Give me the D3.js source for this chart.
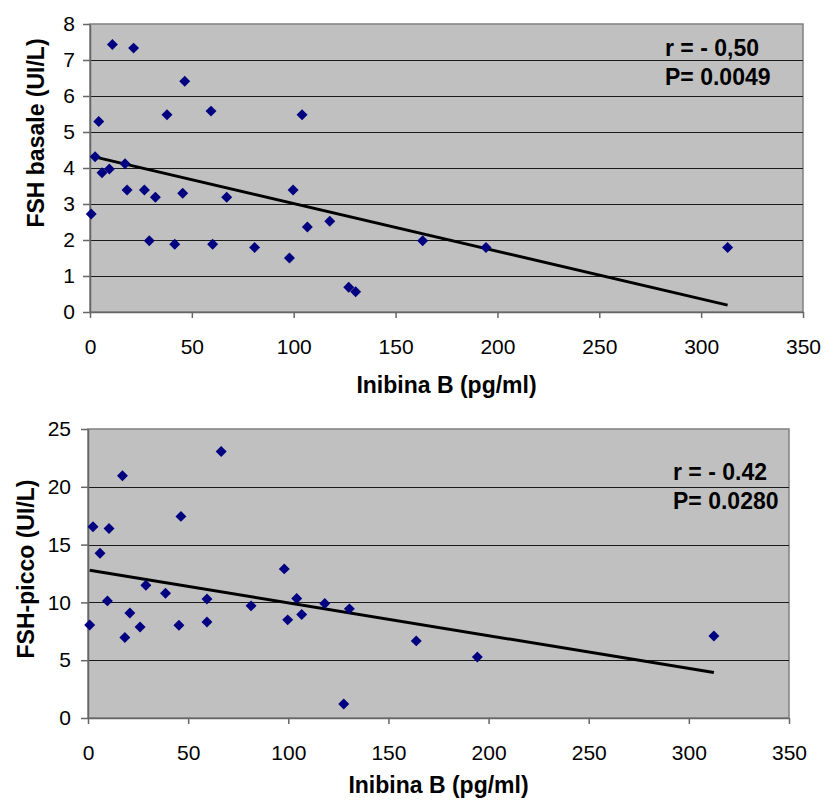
<!DOCTYPE html>
<html>
<head>
<meta charset="utf-8">
<script src="https://cdn.jsdelivr.net/npm/d3@7"></script>
<style>
  body { margin: 0; background: #fff; }
  svg text { font-family: "Liberation Sans", Arial, sans-serif; }
</style>
</head>
<body>
<svg id="chart" width="826" height="804"></svg>
<script>
// --- data ---
const xTicks = [0, 50, 100, 150, 200, 250, 300, 350];

const inibinaTop = [0.6, 2.5, 4.3, 5.9, 9.5, 11, 17.2, 18.2, 21.4, 26.7, 29.1, 32.1, 37.8, 41.6, 45.5,
  46.5, 59.4, 60.2, 67.1, 80.8, 97.9, 99.7, 104.1, 106.7, 117.7, 127, 130.4, 163.3, 194.4, 313];
const fshBasale = [2.72, 4.31, 5.29, 3.87, 3.97, 7.43, 4.12, 3.39, 7.33, 3.39, 1.98, 3.19, 5.48, 1.88, 3.3,
  6.41, 5.58, 1.88, 3.19, 1.79, 1.5, 3.39, 5.48, 2.36, 2.52, 0.69, 0.56, 1.98, 1.79, 1.79];
const trendBasale = [[0.6, 4.33], [313, 0.19]];
const yTicksBasale = [0, 1, 2, 3, 4, 5, 6, 7, 8];

const inibinaBot = [0.85, 2.5, 6, 9.7, 10.5, 17.2, 18.4, 20.9, 26, 28.9, 38.7, 45.4, 46.4, 59.4, 59.4,
  66.5, 81.4, 98, 99.7, 104.2, 106.7, 118.2, 127.7, 130.5, 163.9, 194.4, 312.5];
const fshPicco = [8.05, 16.54, 14.26, 10.13, 16.4, 20.95, 6.96, 9.09, 7.88, 11.49, 10.8, 8.03, 17.44, 8.31, 10.3,
  23.06, 9.7, 12.9, 8.49, 10.34, 8.95, 9.9, 1.21, 9.44, 6.67, 5.28, 7.1];
const trendPicco = [[0.85, 12.78], [312.5, 3.93]];
const yTicksPicco = [0, 5, 10, 15, 20, 25];

const svg = d3.select('#chart');

function panel(o) {
  const x = d3.scaleLinear().domain([0, 350]).range([o.left, o.right]);
  const y = d3.scaleLinear().domain([0, o.yMax]).range([o.bottom, o.top]);
  const g = svg.append('g');

  g.append('rect').attr('x', o.left).attr('y', o.top)
    .attr('width', o.right - o.left).attr('height', o.bottom - o.top)
    .attr('fill', '#c0c0c0').attr('stroke', '#808080').attr('stroke-width', 1.5);

  g.selectAll('line.grid').data(o.yTicks.slice(1, -1)).join('line')
    .attr('x1', o.left).attr('x2', o.right)
    .attr('y1', d => Math.round(y(d)) + .5).attr('y2', d => Math.round(y(d)) + .5)
    .attr('stroke', '#1a1a1a').attr('stroke-width', 1);

  const ax = g.append('g').attr('transform', `translate(0,${o.bottom})`)
    .call(d3.axisBottom(x).tickValues(xTicks).tickSize(6).tickPadding(o.xPad).tickSizeOuter(0));
  const ay = g.append('g').attr('transform', `translate(${o.left},0)`)
    .call(d3.axisLeft(y).tickValues(o.yTicks).tickSize(7).tickPadding(o.yPad).tickSizeOuter(0));
  [ax, ay].forEach(a => {
    a.select('.domain').attr('stroke', '#666').attr('stroke-width', 1.5);
    a.selectAll('.tick line').attr('stroke', '#666').attr('stroke-width', 1.5);
    a.selectAll('.tick text').attr('font-size', 21).attr('fill', '#000')
      .style('font-family', '"Liberation Sans", Arial, sans-serif');
  });

  g.append('line')
    .attr('x1', x(o.trend[0][0])).attr('y1', y(o.trend[0][1]))
    .attr('x2', x(o.trend[1][0])).attr('y2', y(o.trend[1][1]))
    .attr('stroke', '#000').attr('stroke-width', 3);

  const sym = d3.symbol().type(d3.symbolSquare).size(60);
  g.selectAll('path.pt').data(o.xs.map((v, i) => [v, o.ys[i]])).join('path')
    .attr('d', sym)
    .attr('transform', d => `translate(${x(d[0])},${y(d[1])}) rotate(45)`)
    .attr('fill', '#000080');

  g.append('text').attr('x', (o.left + o.right) / 2).attr('y', o.xTitleY)
    .attr('text-anchor', 'middle').attr('font-size', 23).attr('font-weight', 'bold')
    .text('Inibina B (pg/ml)');
  g.append('text').attr('transform', `translate(${o.yTitleX},${o.yTitleC}) rotate(-90)`)
    .attr('text-anchor', 'middle').attr('font-size', 23).attr('font-weight', 'bold')
    .text(o.yTitle);

  o.note.forEach((t, i) => {
    g.append('text').attr('x', o.noteX).attr('y', o.noteY + i * 29)
      .attr('font-size', 23).attr('font-weight', 'bold').text(t);
  });
}

panel({
  left: 90, right: 803, top: 24, bottom: 312, yMax: 8, yTicks: yTicksBasale,
  xs: inibinaTop, ys: fshBasale, trend: trendBasale,
  xPad: 21, yPad: 8, xTitleY: 393,
  yTitle: 'FSH basale (UI/L)', yTitleX: 44, yTitleC: 133,
  note: ['r = - 0,50', 'P= 0.0049'], noteX: 665, noteY: 56
});

panel({
  left: 88, right: 789, top: 429, bottom: 718, yMax: 25, yTicks: yTicksPicco,
  xs: inibinaBot, ys: fshPicco, trend: trendPicco,
  xPad: 21, yPad: 10, xTitleY: 793,
  yTitle: 'FSH-picco (UI/L)', yTitleX: 34, yTitleC: 569,
  note: ['r = - 0.42', 'P= 0.0280'], noteX: 673, noteY: 480
});
</script>
</body>
</html>
